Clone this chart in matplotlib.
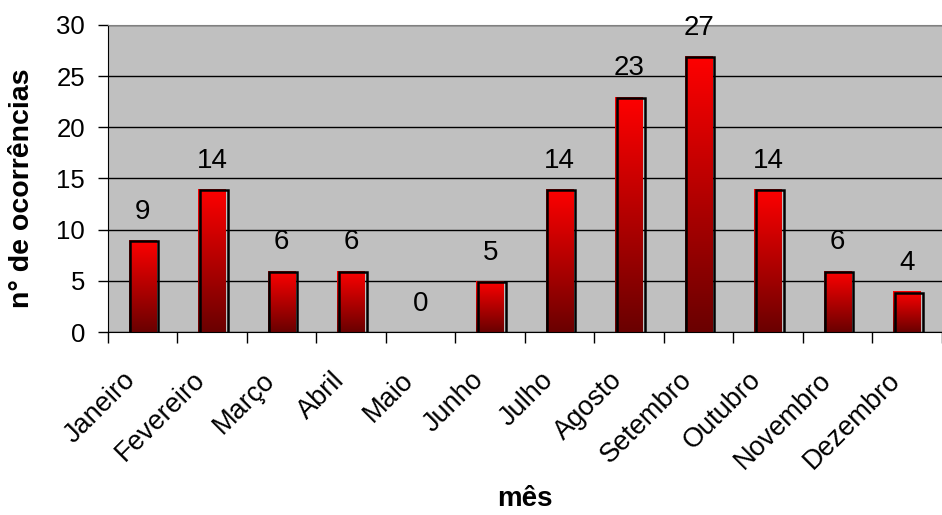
import numpy as np
import matplotlib
matplotlib.use('Agg')
from matplotlib import pyplot as plt
from matplotlib.colors import LinearSegmentedColormap
from matplotlib.patches import Rectangle
import matplotlib.transforms as mtransforms

plt.rcParams['font.family'] = ['Liberation Sans', 'DejaVu Sans']

meses = ['Janeiro', 'Fevereiro', 'Março', 'Abril', 'Maio', 'Junho', 'Julho',
         'Agosto', 'Setembro', 'Outubro', 'Novembro', 'Dezembro']
ocorrencias = [9, 14, 6, 6, 0, 5, 14, 23, 27, 14, 6, 4]

fig = plt.figure(figsize=(9.42, 5.15), dpi=100)
ax = fig.add_axes([0.1146, 0.3553, 0.8854, 0.5962])
ax.set_facecolor('#c0c0c0')

cmap = LinearSegmentedColormap.from_list('red', ['#6a0000', '#ff0000'])
grad = np.linspace(0, 1, 256).reshape(-1, 1)

x = np.arange(len(meses))
w = 0.4
shadow = mtransforms.offset_copy(ax.transData, fig=fig, x=1.5, y=-1.5, units='dots')
for xi, v in zip(x, ocorrencias):
    ax.text(xi, v + 2.75, str(v), ha='center', va='center', fontsize=20)
    if v == 0:
        continue
    outline = Rectangle((xi - w / 2, 0), w, v, fill=False, edgecolor='black',
                        linewidth=1.8, transform=shadow, zorder=3)
    ax.add_patch(outline)
    clip = Rectangle((xi - w / 2, 0), w, v, facecolor='none', edgecolor='none')
    ax.add_patch(clip)
    im = ax.imshow(grad, cmap=cmap, origin='lower', aspect='auto',
                   extent=(xi - w / 2, xi + w / 2, 0, v), zorder=2)
    im.set_clip_path(clip)

ax.set_xlim(-0.5, len(meses) - 0.5)
ax.set_ylim(0, 30)
ax.set_yticks(np.arange(0, 31, 5))
ax.yaxis.grid(True, color='black', linewidth=1)
ax.set_axisbelow(True)

# month labels, drawn as text so they can sit a bit left of the bar centre
ax.set_xticks(np.arange(-0.5, len(meses)))
ax.set_xticklabels([])
lab_tr = mtransforms.offset_copy(ax.get_xaxis_transform(), fig=fig, x=-20, y=-35, units='dots')
for xi, m in zip(x, meses):
    ax.text(xi, 0, m, transform=lab_tr, rotation=45, ha='right', va='top',
            rotation_mode='anchor', fontsize=19.5, clip_on=False)
ax.tick_params(axis='x', length=8, width=1, direction='out')
ax.tick_params(axis='y', length=7, width=1, direction='out', labelsize=18.5, pad=9.5)

ax.spines['top'].set_color('#808080')
ax.spines['right'].set_visible(False)
ax.spines['left'].set_color('black')
ax.spines['bottom'].set_color('black')

ax.set_xlabel('mês', fontsize=20, fontweight='bold')
ax.xaxis.set_label_coords(0.5, -0.5)
ax.set_ylabel('n° de ocorrências', fontsize=20.5, fontweight='bold')
ax.yaxis.set_label_coords(-0.0875, 0.469)

fig.savefig('out.png', dpi=100)
